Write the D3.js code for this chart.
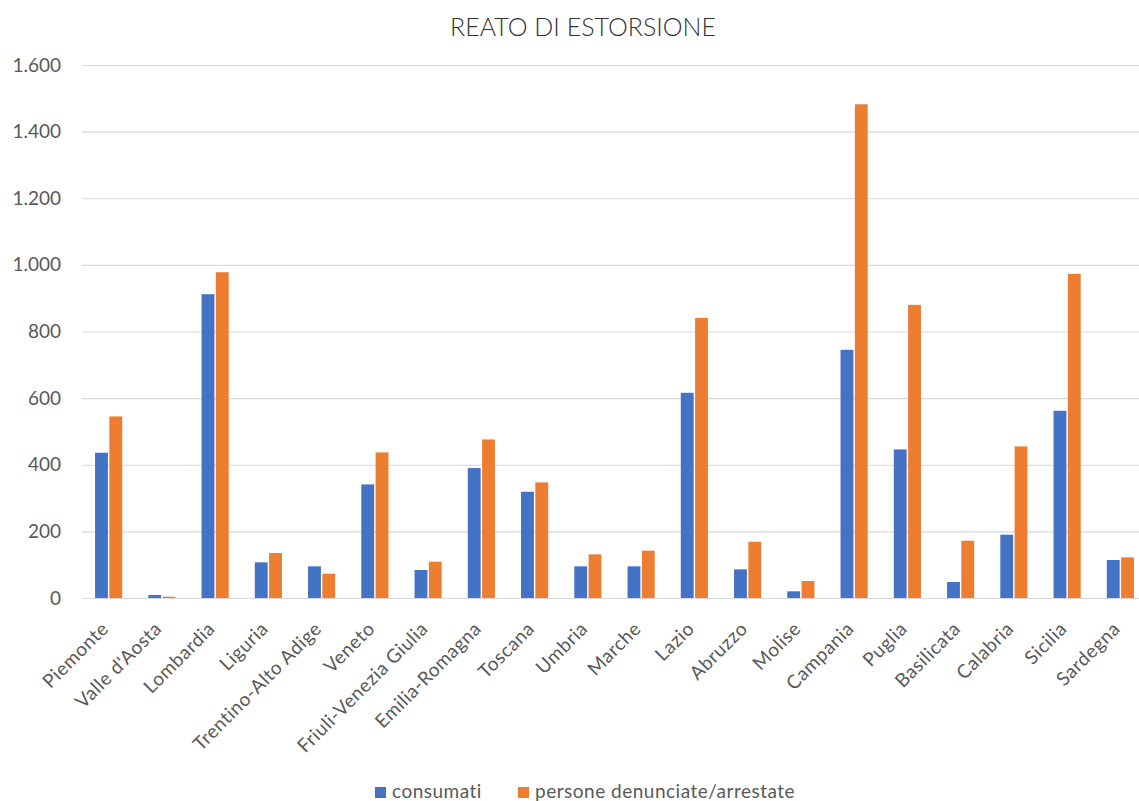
<!DOCTYPE html>
<html>
<head>
<meta charset="utf-8">
<script src="https://cdn.jsdelivr.net/npm/d3@7"></script>
<style>
  body { margin: 0; background: #fff; }
  svg, svg text { font-family: Lato, "Open Sans", sans-serif; }
</style>
</head>
<body>
<svg id="chart" width="1139" height="801"></svg>
<script>
var regions = ['Piemonte', "Valle d'Aosta", 'Lombardia', 'Liguria', 'Trentino-Alto Adige', 'Veneto',
  'Friuli-Venezia Giulia', 'Emilia-Romagna', 'Toscana', 'Umbria', 'Marche', 'Lazio', 'Abruzzo',
  'Molise', 'Campania', 'Puglia', 'Basilicata', 'Calabria', 'Sicilia', 'Sardegna'];
var consumati = [436, 9, 912, 107, 95, 341, 84, 390, 319, 95, 95, 616, 86, 20, 745, 446, 48, 190, 562, 114];
var denunciati = [545, 4, 978, 135, 73, 437, 109, 476, 347, 131, 142, 841, 169, 51, 1482, 880, 172, 455, 973, 122];
var yTicks = [0, 200, 400, 600, 800, 1000, 1200, 1400, 1600];
var seriesNames = ['consumati', 'persone denunciate/arrestate'];
var colors = ['#4472c4', '#ed7d31'];

var it = d3.formatLocale({ decimal: ',', thousands: '.', grouping: [3], currency: ['', '€'] });
var fmt = it.format(',d');

var svg = d3.select('#chart');
var plotLeft = 82, plotRight = 1147, plotTop = 65, plotBottom = 598;

var x0 = d3.scaleBand().domain(regions).range([plotLeft, plotRight]).paddingInner(0.49).paddingOuter(0.245);
var x1 = d3.scaleBand().domain([0, 1]).range([0, x0.bandwidth()]).paddingInner(0.1);
var y = d3.scaleLinear().domain([0, 1600]).range([plotBottom, plotTop]);

// title
svg.append('text')
  .attr('x', 583).attr('y', 36)
  .attr('text-anchor', 'middle')
  .attr('font-size', 25).attr('font-weight', 300)
  .attr('fill', '#333')
  .text('REATO DI ESTORSIONE');

// grid + y labels
var yAxis = d3.axisLeft(y).tickValues(yTicks).tickFormat(fmt).tickSize(-(plotRight - plotLeft)).tickPadding(21);
var gy = svg.append('g').attr('transform', 'translate(' + plotLeft + ',0)').call(yAxis)
  .attr('font-family', null);
gy.select('.domain').remove();
gy.selectAll('.tick line').attr('stroke', '#d9d9d9').attr('stroke-width', 1.2);
gy.selectAll('.tick text').attr('fill', '#595959').attr('font-size', 19);

// bars
var groups = svg.append('g').selectAll('g')
  .data(regions)
  .join('g')
  .attr('transform', function (d) { return 'translate(' + x0(d) + ',0)'; });

groups.selectAll('rect')
  .data(function (d, i) { return [consumati[i], denunciati[i]]; })
  .join('rect')
  .attr('x', function (d, j) { return x1(j); })
  .attr('width', x1.bandwidth())
  .attr('y', function (d) { return y(d); })
  .attr('height', function (d) { return y(0) - y(d); })
  .attr('fill', function (d, j) { return colors[j]; });

// x labels
var xAxis = d3.axisBottom(x0).tickSize(0).tickPadding(0);
var gx = svg.append('g').attr('transform', 'translate(0,' + plotBottom + ')').call(xAxis)
  .attr('font-family', null);
gx.select('.domain').attr('stroke', '#d9d9d9').attr('stroke-width', 1.2);
gx.selectAll('.tick text')
  .attr('fill', '#595959').attr('font-size', 19)
  .attr('letter-spacing', 0.5)
  .attr('text-anchor', 'end')
  .attr('dy', 0)
  .attr('transform', 'translate(1,32) rotate(-45)');

// legend
var legX = [375, 518];
var leg = svg.append('g').selectAll('g').data(seriesNames).join('g')
  .attr('transform', function (d, i) { return 'translate(' + legX[i] + ',787)'; });
leg.append('rect').attr('width', 11).attr('height', 11).attr('fill', function (d, i) { return colors[i]; });
leg.append('text').attr('x', 17).attr('y', 11).attr('font-size', 19).attr('letter-spacing', 0.5)
  .attr('fill', '#595959').text(function (d) { return d; });
</script>
</body>
</html>
